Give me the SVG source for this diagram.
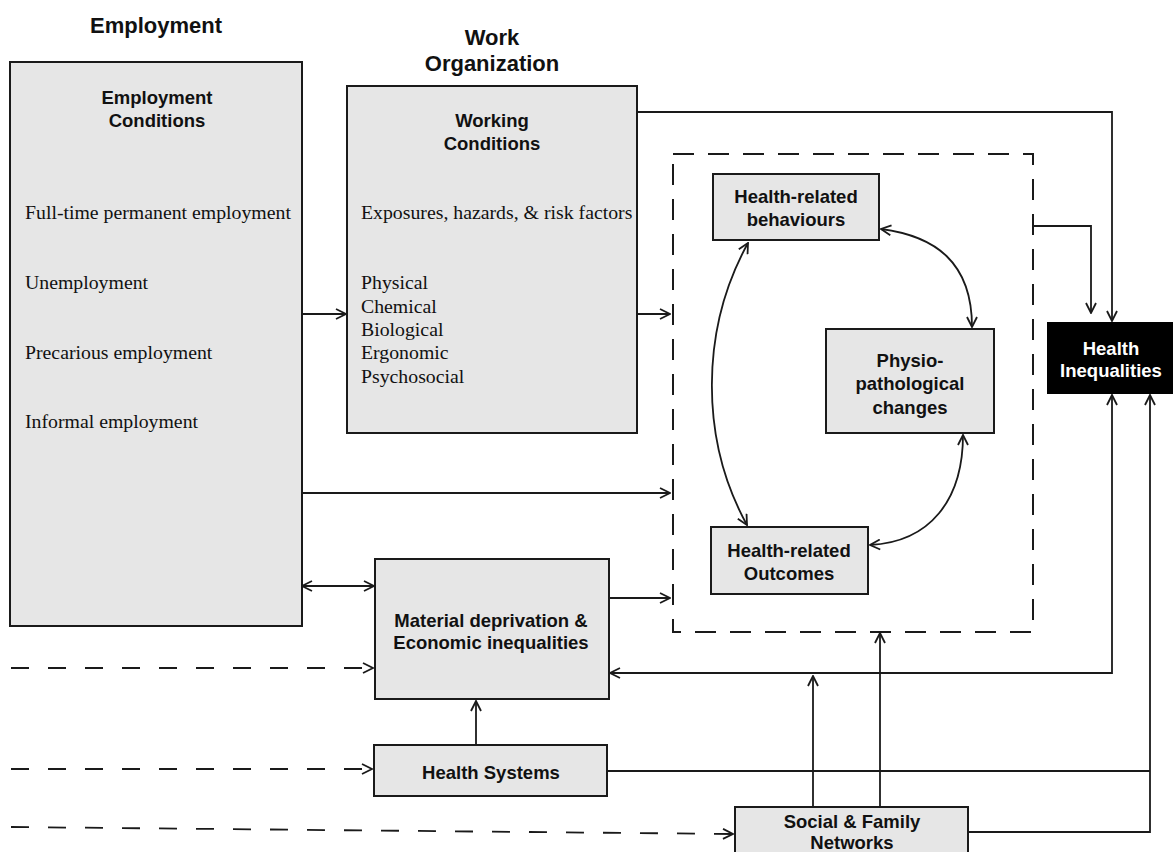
<svg xmlns="http://www.w3.org/2000/svg" width="1173" height="852" viewBox="0 0 1173 852">
  <style>
    .box { fill: #e6e6e6; stroke: #1a1a1a; stroke-width: 2; }
    .dark { fill: #000; stroke: #000; stroke-width: 2; }
    .frame { fill: none; stroke: #1a1a1a; stroke-width: 2; stroke-dasharray: 21 14; }
    .ln { fill: none; stroke: #1a1a1a; stroke-width: 1.8; }
    .dl { fill: none; stroke: #1a1a1a; stroke-width: 1.8; stroke-dasharray: 18 19; }
    .arr { marker-end: url(#head); }
    .both { marker-start: url(#head); marker-end: url(#head); }
    .title { font-family: "Liberation Sans", Arial, sans-serif; font-weight: bold; font-size: 22px; fill: #111; text-anchor: middle; }
    .lab { font-family: "Liberation Sans", Arial, sans-serif; font-weight: bold; font-size: 18.5px; fill: #111; text-anchor: middle; }
    .inv { fill: #fff; }
    .ser { font-family: "Liberation Serif", "Times New Roman", serif; font-size: 19.8px; fill: #111; }
  </style>
  <defs>
    <marker id="head" viewBox="0 0 12 12" refX="11" refY="6" markerWidth="12" markerHeight="12" markerUnits="userSpaceOnUse" orient="auto-start-reverse">
      <path d="M1,1 L11,6 L1,11" fill="none" stroke="#1a1a1a" stroke-width="1.8"/>
    </marker>
  </defs>
  <rect width="1173" height="852" fill="#fff"/>

  <!-- column headings -->
  <text class="title" x="156" y="33">Employment</text>
  <text class="title" x="492" y="45">Work</text>
  <text class="title" x="492" y="71">Organization</text>

  <!-- dashed frame around the health outcome cluster -->
  <rect id="health-cluster" class="frame" x="673" y="154" width="360" height="478"/>

  <g id="employment-conditions">
    <rect class="box" x="10" y="62" width="292" height="564"/>
    <text class="lab" x="157" y="104">Employment</text>
    <text class="lab" x="157" y="127">Conditions</text>
    <text class="ser" x="25" y="219">Full-time permanent employment</text>
    <text class="ser" x="25" y="289">Unemployment</text>
    <text class="ser" x="25" y="359">Precarious employment</text>
    <text class="ser" x="25" y="428">Informal employment</text>
  </g>

  <g id="working-conditions">
    <rect class="box" x="347" y="86" width="290" height="347"/>
    <text class="lab" x="492" y="127">Working</text>
    <text class="lab" x="492" y="150">Conditions</text>
    <text class="ser" x="361" y="219">Exposures, hazards, &amp; risk factors</text>
    <text class="ser" x="361" y="289">Physical</text>
    <text class="ser" x="361" y="313">Chemical</text>
    <text class="ser" x="361" y="336">Biological</text>
    <text class="ser" x="361" y="359">Ergonomic</text>
    <text class="ser" x="361" y="383">Psychosocial</text>
  </g>

  <g id="health-behaviours">
    <rect class="box" x="713" y="174" width="166" height="66"/>
    <text class="lab" x="796" y="203">Health-related</text>
    <text class="lab" x="796" y="226">behaviours</text>
  </g>

  <g id="physio-changes">
    <rect class="box" x="826" y="329" width="168" height="104"/>
    <text class="lab" x="910" y="367">Physio-</text>
    <text class="lab" x="910" y="390">pathological</text>
    <text class="lab" x="910" y="414">changes</text>
  </g>

  <g id="health-outcomes">
    <rect class="box" x="711" y="527" width="157" height="67"/>
    <text class="lab" x="789" y="557">Health-related</text>
    <text class="lab" x="789" y="580">Outcomes</text>
  </g>

  <g id="health-inequalities">
    <rect class="dark" x="1048" y="323" width="126" height="70"/>
    <text class="lab inv" x="1111" y="355">Health</text>
    <text class="lab inv" x="1111" y="377">Inequalities</text>
  </g>

  <g id="material-deprivation">
    <rect class="box" x="375" y="559" width="234" height="140"/>
    <text class="lab" x="491" y="627">Material deprivation &amp;</text>
    <text class="lab" x="491" y="649">Economic inequalities</text>
  </g>

  <g id="health-systems">
    <rect class="box" x="374" y="745" width="233" height="51"/>
    <text class="lab" x="491" y="779">Health Systems</text>
  </g>

  <g id="social-networks">
    <rect class="box" x="735" y="807" width="233" height="60"/>
    <text class="lab" x="852" y="828">Social &amp; Family</text>
    <text class="lab" x="852" y="849">Networks</text>
  </g>

  <g id="connectors">
    <!-- employment to work organization and the health cluster -->
    <line class="ln arr" x1="302" y1="314" x2="346" y2="314"/>
    <line class="ln arr" x1="637" y1="314" x2="670" y2="314"/>
    <line class="ln arr" x1="302" y1="493" x2="670" y2="493"/>
    <line class="ln both" x1="302" y1="586" x2="374" y2="586"/>
    <line class="ln arr" x1="609" y1="598" x2="670" y2="598"/>

    <!-- routes into health inequalities -->
    <polyline class="ln arr" points="637,112 1112,112 1112,321"/>
    <polyline class="ln arr" points="1033,226 1091,226 1091,313"/>
    <polyline class="ln both" points="1112,395 1112,673 610,673"/>
    <polyline class="ln arr" points="968,832 1150,832 1150,395"/>
    <line class="ln" x1="607" y1="771" x2="1150" y2="771"/>

    <!-- health systems and social networks -->
    <line class="ln arr" x1="476" y1="745" x2="476" y2="701"/>
    <line class="ln arr" x1="813" y1="807" x2="813" y2="676"/>
    <line class="ln arr" x1="880" y1="807" x2="880" y2="633"/>

    <!-- reciprocal links inside the cluster -->
    <path class="ln both" d="M881,229 C935,236 972,262 972,327"/>
    <path class="ln both" d="M963,435 C963,500 930,542 870,545"/>
    <path class="ln both" d="M748,243 C700,330 700,440 747,525"/>

    <!-- broader context inputs -->
    <line class="dl arr" x1="11" y1="668" x2="373" y2="668"/>
    <line class="dl arr" x1="11" y1="769" x2="372" y2="769"/>
    <line class="dl arr" x1="11" y1="827" x2="733" y2="834"/>
  </g>
</svg>
